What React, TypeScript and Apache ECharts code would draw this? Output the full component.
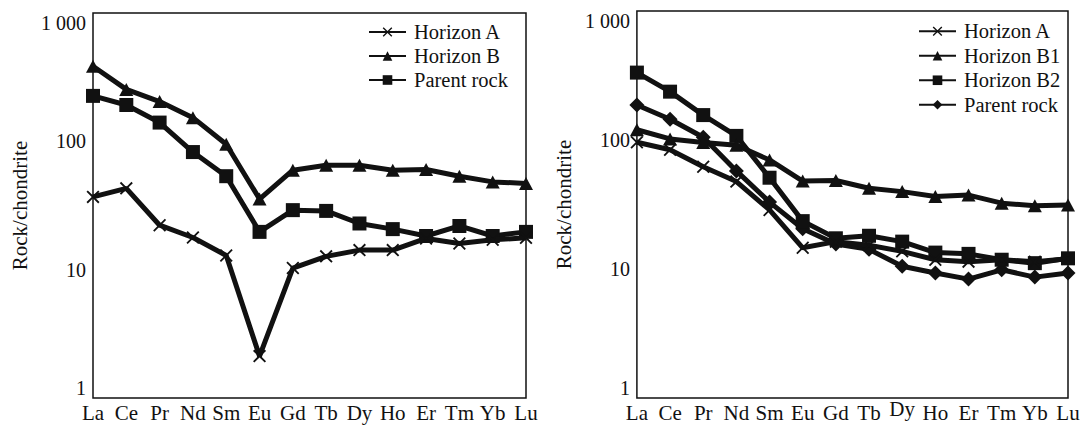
import React, { useEffect, useRef } from "react";
import * as echarts from "echarts";

// Rare-earth element order along the x axis
const elements = ["La", "Ce", "Pr", "Nd", "Sm", "Eu", "Gd", "Tb", "Dy", "Ho", "Er", "Tm", "Yb", "Lu"];

// Y-axis decade labels
const yTicks = [1, 10, 100, 1000];

// Left profile: chondrite-normalised REE
const leftHorizonA = [36.9, 43, 22.2, 17.8, 12.9, 2.12, 10.3, 12.7, 14.2, 14.2, 17.5, 16.0, 17.1, 17.7];
const leftHorizonB = [385, 254, 204, 153, 95, 35.5, 59.6, 65, 65, 59.6, 60.3, 53.5, 48.3, 47];
const leftParent = [226, 192, 140, 82.5, 53.5, 19.7, 29.1, 28.7, 22.9, 20.7, 18.3, 21.9, 18.3, 19.7];

// Right profile: chondrite-normalised REE
const rightHorizonA = [96, 84, 62, 47.6, 28.7, 14.6, 16.3, 15.3, 13.7, 11.8, 11.4, 11.8, 11.4, 12];
const rightHorizonB1 = [120, 102, 95.5, 91, 70, 48, 48.5, 42.3, 39.8, 36.5, 37.4, 32.4, 30.9, 31.4];
const rightHorizonB2 = [333, 237, 156, 107.6, 51, 23.5, 17.3, 18.1, 16.3, 13.4, 13.1, 11.8, 11.1, 12.1];
const rightParent = [187, 145, 105, 57.6, 33, 20.5, 15.6, 14.2, 10.5, 9.3, 8.35, 9.86, 8.65, 9.3];

const INK = "#111111";
const SERIF = "Liberation Serif";
const CROSS = "path://M0,1.2L1.2,0L6,4.8L10.8,0L12,1.2L7.2,6L12,10.8L10.8,12L6,7.2L1.2,12L0,10.8L4.8,6Z";

type Sym = { symbol: string; size: number | number[] };
const SYM_CROSS: Sym = { symbol: CROSS, size: 13 };
const SYM_TRI: Sym = { symbol: "triangle", size: [14, 13] };
const SYM_SQ: Sym = { symbol: "rect", size: 14 };
const SYM_DIA: Sym = { symbol: "diamond", size: [15, 15] };

function lineSeries(name: string, data: number[], sym: Sym, z: number) {
  return {
    type: "line",
    name,
    data,
    symbol: sym.symbol,
    symbolSize: sym.size,
    showSymbol: true,
    showAllSymbol: true,
    z,
    lineStyle: { width: 5, color: INK },
    itemStyle: { color: INK, borderWidth: 0 },
    emphasis: { disabled: true },
  };
}

type PanelCfg = {
  grid: { left: number; top: number; width: number; height: number };
  legend: { left: number; top: number; lineHeight: number };
  series: any[];
  raiseDy?: boolean;
};

function buildOption(cfg: PanelCfg) {
  return {
    animation: false,
    textStyle: { fontFamily: SERIF, color: INK },
    grid: {
      ...cfg.grid,
      show: true,
      borderColor: INK,
      borderWidth: 1.5,
      backgroundColor: "transparent",
      containLabel: false,
    },
    legend: {
      orient: "vertical",
      left: cfg.legend.left,
      top: cfg.legend.top,
      padding: 0,
      itemGap: 0,
      itemWidth: 37,
      itemHeight: 12,
      align: "left",
      selectedMode: false,
      textStyle: {
        fontFamily: SERIF,
        fontSize: 20.5,
        color: INK,
        lineHeight: cfg.legend.lineHeight,
        padding: [0, 0, 0, 3],
      },
      data: cfg.series.map((s) => s.name),
    },
    xAxis: {
      type: "category",
      data: elements,
      boundaryGap: false,
      axisLine: { show: false },
      axisTick: { show: false },
      splitLine: { show: false },
      axisLabel: {
        interval: 0,
        fontFamily: SERIF,
        fontSize: 21,
        color: INK,
        margin: 4,
        formatter: (v: string) => (cfg.raiseDy && v === "Dy" ? "{up|Dy}" : v),
        rich: { up: { fontFamily: SERIF, fontSize: 21, color: INK, lineHeight: 13 } },
      },
    },
    yAxis: {
      type: "log",
      logBase: 10,
      min: yTicks[0],
      max: yTicks[yTicks.length - 1],
      name: "Rock/chondrite",
      nameLocation: "middle",
      nameGap: 61,
      nameRotate: 90,
      nameTextStyle: { fontFamily: SERIF, fontSize: 21, color: INK },
      axisLine: { show: false },
      axisTick: { show: false },
      splitLine: { show: false },
      axisLabel: {
        fontFamily: SERIF,
        fontSize: 20,
        color: INK,
        margin: 7,
        verticalAlignMinLabel: "bottom",
        verticalAlignMaxLabel: "top",
        formatter: (v: number) => {
          const n = Math.round(v);
          return n >= 1000 ? "1 000" : String(n);
        },
      },
    },
    series: cfg.series,
  };
}

function Panel({ cfg, left }: { cfg: PanelCfg; left: number }) {
  const ref = useRef<HTMLDivElement>(null);
  useEffect(() => {
    if (!ref.current) return;
    const chart = echarts.init(ref.current, undefined, { renderer: "svg" });
    chart.setOption(buildOption(cfg) as any);
    return () => chart.dispose();
  }, [cfg]);
  return (
    <div
      ref={ref}
      style={{ position: "absolute", left, top: 0, width: 545, height: 425 }}
    />
  );
}

const leftCfg: PanelCfg = {
  grid: { left: 93, top: 13, width: 433, height: 385 },
  legend: { left: 368, top: 20, lineHeight: 24 },
  series: [
    lineSeries("Horizon A", leftHorizonA, SYM_CROSS, 3),
    lineSeries("Horizon B", leftHorizonB, SYM_TRI, 2),
    lineSeries("Parent rock", leftParent, SYM_SQ, 1),
  ],
};

const rightCfg: PanelCfg = {
  grid: { left: 89, top: 11, width: 434, height: 387 },
  legend: { left: 373, top: 19, lineHeight: 24.5 },
  raiseDy: true,
  series: [
    lineSeries("Horizon A", rightHorizonA, SYM_CROSS, 4),
    lineSeries("Horizon B1", rightHorizonB1, SYM_TRI, 3),
    lineSeries("Horizon B2", rightHorizonB2, SYM_SQ, 2),
    lineSeries("Parent rock", rightParent, SYM_DIA, 1),
  ],
};

export default function App() {
  return (
    <div
      style={{
        position: "fixed",
        left: 0,
        top: 0,
        width: 1090,
        height: 425,
        background: "#ffffff",
        overflow: "hidden",
      }}
    >
      <Panel cfg={leftCfg} left={0} />
      <Panel cfg={rightCfg} left={545} />
    </div>
  );
}
